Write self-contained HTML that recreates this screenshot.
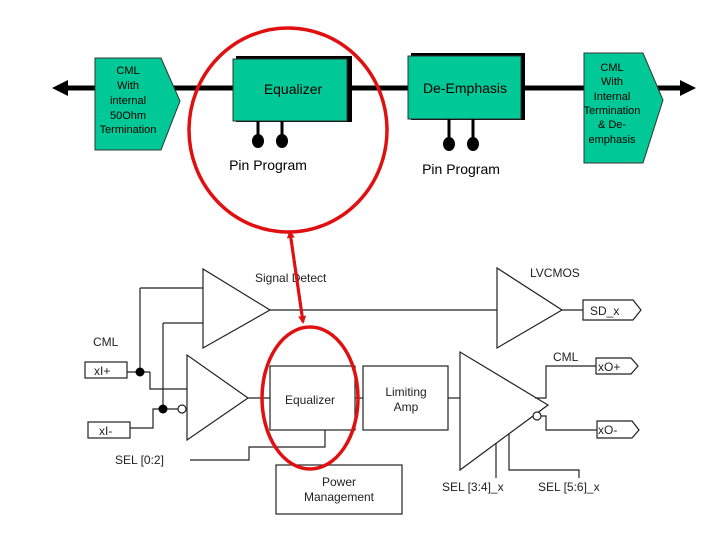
<!DOCTYPE html>
<html><head><meta charset="utf-8"><style>
html,body{margin:0;padding:0;background:#fff;}
svg{display:block;font-family:"Liberation Sans",Arial,sans-serif;}
</style></head><body>
<svg width="720" height="540" viewBox="0 0 720 540" xmlns="http://www.w3.org/2000/svg">
<defs>
<marker id="ar" markerWidth="8" markerHeight="8" refX="6" refY="4" orient="auto" markerUnits="userSpaceOnUse"><path d="M0,0 L8,4 L0,8 z" fill="#e01010"/></marker>
</defs>
<line x1="62" y1="88" x2="684" y2="88" stroke="#000" stroke-width="5"/>
<polygon points="52,88 68,80 68,96" fill="#000"/>
<polygon points="696,88 680,80 680,96" fill="#000"/>
<polygon points="95,58 161,58 180,101 161,150 95,150" fill="#00c896" stroke="#333" stroke-width="1"/>
<g font-size="11" fill="#000" text-anchor="middle">
<text x="128" y="74">CML</text><text x="128" y="89">With</text><text x="128" y="104">internal</text><text x="128" y="119">50Ohm</text><text x="128" y="133">Termination</text>
</g>
<rect x="236" y="56" width="116" height="66" fill="#000"/>
<rect x="233" y="59" width="114" height="62" fill="#00c896" stroke="#333"/>
<text x="293" y="94" font-size="14" text-anchor="middle">Equalizer</text>
<line x1="258" y1="121" x2="258" y2="138" stroke="#000" stroke-width="3"/>
<line x1="282" y1="121" x2="282" y2="138" stroke="#000" stroke-width="3"/>
<ellipse cx="258" cy="141" rx="6" ry="7" fill="#000"/>
<ellipse cx="282" cy="141" rx="6" ry="7" fill="#000"/>
<text x="268" y="170" font-size="14" text-anchor="middle">Pin Program</text>
<rect x="411" y="53" width="114" height="67" fill="#000"/>
<rect x="408" y="56" width="113" height="63" fill="#00c896" stroke="#333"/>
<text x="465" y="93" font-size="14" text-anchor="middle">De-Emphasis</text>
<line x1="449" y1="119" x2="449" y2="140" stroke="#000" stroke-width="3"/>
<line x1="473" y1="119" x2="473" y2="140" stroke="#000" stroke-width="3"/>
<ellipse cx="449" cy="144" rx="6" ry="7" fill="#000"/>
<ellipse cx="473" cy="144" rx="6" ry="7" fill="#000"/>
<text x="461" y="174" font-size="14" text-anchor="middle">Pin Program</text>
<polygon points="584,53 643,53 663,100 643,163 584,163" fill="#00c896" stroke="#333"/>
<g font-size="11" fill="#000" text-anchor="middle">
<text x="612" y="71">CML</text><text x="612" y="85">With</text><text x="612" y="100">Internal</text><text x="612" y="114">Termination</text><text x="612" y="128">&amp; De-</text><text x="612" y="143">emphasis</text>
</g>
<g stroke="#222" stroke-width="1.2" fill="none">
<polygon points="203,269 203,348 270,310" fill="#fff"/>
<line x1="270" y1="310" x2="497" y2="310"/>
<polygon points="497,268 497,348 562,310" fill="#fff"/>
<line x1="562" y1="310" x2="583" y2="310"/>
<polygon points="583,300 633,300 641,310 633,320 583,320"/>
<line x1="140" y1="288" x2="203" y2="288"/>
<line x1="140" y1="288" x2="140" y2="372"/>
<line x1="163" y1="323" x2="203" y2="323"/>
<line x1="163" y1="323" x2="163" y2="409"/>
<rect x="85" y="362" width="42" height="16"/>
<rect x="88" y="422" width="42" height="16"/>
<line x1="127" y1="372" x2="150" y2="372"/>
<polyline points="150,372 150,389 187,389"/>
<polyline points="130,428 153,428 153,409 178,409"/>
<circle cx="182" cy="409" r="4" fill="#fff"/>
<polygon points="187,355 187,440 248,398" fill="#fff"/>
<line x1="248" y1="398" x2="270" y2="398"/>
<rect x="270" y="366" width="85" height="64"/>
<line x1="355" y1="398" x2="363" y2="398"/>
<rect x="363" y="366" width="85" height="64"/>
<line x1="448" y1="398" x2="460" y2="398"/>
<polygon points="460,352 460,470 548,405" fill="#fff"/>
<circle cx="537" cy="416" r="4" fill="#fff"/>
<polyline points="535,398 546,398 546,366 596,366"/>
<polygon points="596,358 631,358 638,366 631,374 596,374"/>
<polyline points="541,416 546,416 546,430 597,430"/>
<polygon points="597,421 632,421 639,430 632,438 597,438"/>
<polyline points="190,460 249,460 249,447 325,447 325,430"/>
<rect x="276" y="465" width="126" height="49"/>
<line x1="496" y1="443" x2="496" y2="478"/>
<polyline points="509,434 509,470 579,470 579,478"/>
</g>
<circle cx="140" cy="372" r="4.5" fill="#000"/>
<circle cx="163" cy="409" r="4.5" fill="#000"/>
<g font-size="12" fill="#222">
<text x="255" y="282">Signal Detect</text>
<text x="530" y="277">LVCMOS</text>
<text x="590" y="315">SD_x</text>
<text x="93" y="346">CML</text>
<text x="94" y="375">xI+</text>
<text x="99" y="435">xI-</text>
<text x="310" y="404" text-anchor="middle">Equalizer</text>
<text x="406" y="396" text-anchor="middle">Limiting</text>
<text x="406" y="411" text-anchor="middle">Amp</text>
<text x="553" y="361">CML</text>
<text x="598" y="371">xO+</text>
<text x="598" y="434">xO-</text>
<text x="115" y="464">SEL [0:2]</text>
<text x="339" y="486" text-anchor="middle">Power</text>
<text x="339" y="501" text-anchor="middle">Management</text>
<text x="442" y="491">SEL [3:4]_x</text>
<text x="538" y="491">SEL [5:6]_x</text>
</g>
<ellipse cx="288" cy="130" rx="99" ry="102" fill="none" stroke="#e01010" stroke-width="3.5"/>
<line x1="290" y1="232" x2="303" y2="322" stroke="#e01010" stroke-width="3" marker-end="url(#ar)"/>
<line x1="303" y1="322" x2="290" y2="232" stroke="#e01010" stroke-width="3" marker-end="url(#ar)"/>
<ellipse cx="310" cy="398" rx="48" ry="71" fill="none" stroke="#e01010" stroke-width="3.5"/>
</svg>
</body></html>
